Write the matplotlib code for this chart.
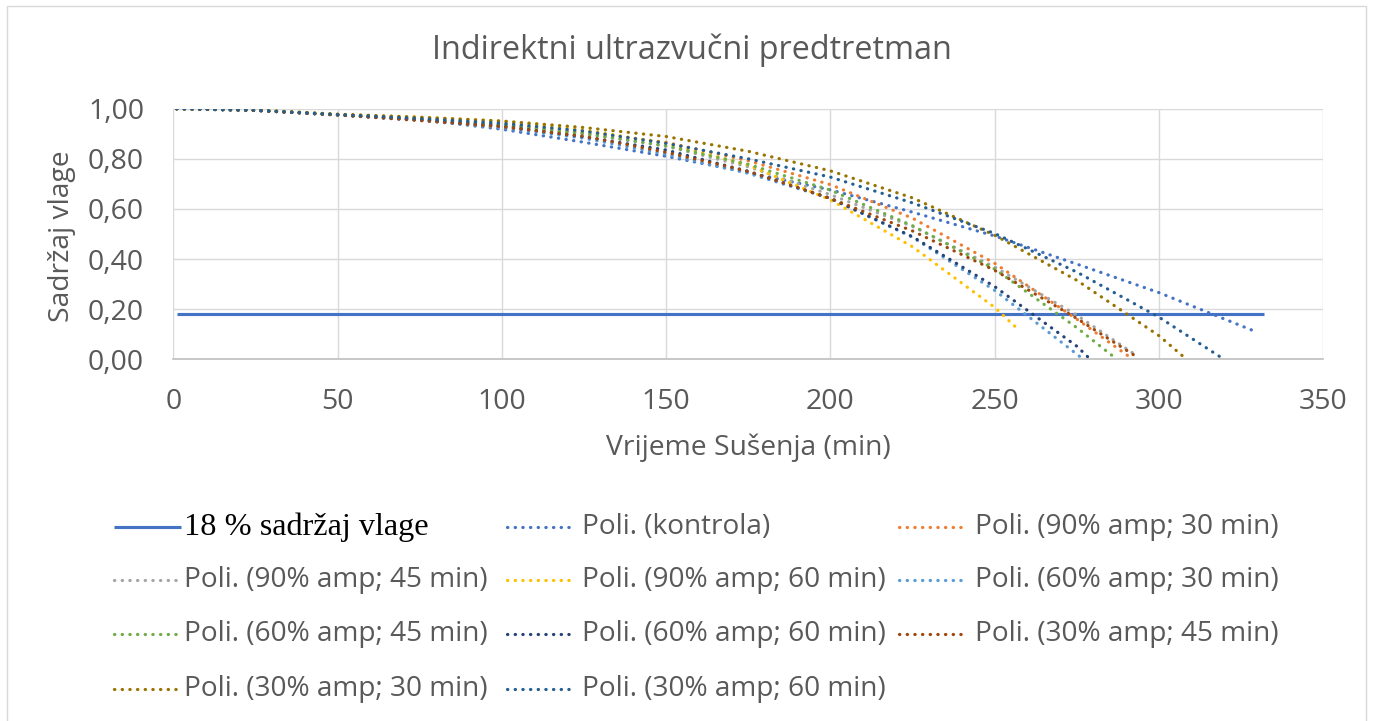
import matplotlib
matplotlib.use("Agg")
import matplotlib.pyplot as plt
from matplotlib.lines import Line2D
from matplotlib.patches import Rectangle

# ---------------- data ----------------
title = "Indirektni ultrazvučni predtretman"
x_label = "Vrijeme Sušenja (min)"
y_label = "Sadržaj vlage"

x_ticks = [0, 50, 100, 150, 200, 250, 300, 350]
y_ticks = [0.0, 0.2, 0.4, 0.6, 0.8, 1.0]
y_tick_labels = ["0,00", "0,20", "0,40", "0,60", "0,80", "1,00"]

ref_label = "18 % sadržaj vlage"
ref_x = [1, 332]
ref_y = [0.18, 0.18]

# trendline values (x in min, y moisture ratio)
kontrola_x = [1, 25, 50, 75, 100, 125, 150, 175, 200, 225, 250, 275, 300, 329.5]
kontrola_y = [1.000, 0.993, 0.975, 0.957, 0.918, 0.866, 0.810, 0.745, 0.676, 0.587, 0.492, 0.380, 0.266, 0.110]

a90t30_x = [1, 25, 50, 75, 100, 125, 150, 175, 200, 225, 250, 275, 291]
a90t30_y = [1.000, 0.994, 0.976, 0.960, 0.937, 0.906, 0.866, 0.792, 0.697, 0.563, 0.383, 0.160, 0.010]

a90t45_x = [1, 25, 50, 75, 100, 125, 150, 175, 200, 225, 250, 275, 293.5]
a90t45_y = [1.000, 0.994, 0.976, 0.958, 0.934, 0.899, 0.850, 0.768, 0.657, 0.530, 0.368, 0.176, 0.012]

a90t60_x = [1, 25, 50, 75, 100, 125, 150, 175, 200, 225, 250, 257.5]
a90t60_y = [1.000, 0.995, 0.978, 0.966, 0.950, 0.915, 0.862, 0.775, 0.636, 0.449, 0.207, 0.115]

a60t30_x = [1, 25, 50, 75, 100, 125, 150, 175, 200, 225, 250, 276]
a60t30_y = [1.000, 0.993, 0.975, 0.953, 0.924, 0.882, 0.818, 0.742, 0.642, 0.487, 0.275, 0.010]

a60t45_x = [1, 25, 50, 75, 100, 125, 150, 175, 200, 225, 250, 275, 286.4]
a60t45_y = [1.000, 0.994, 0.976, 0.958, 0.935, 0.901, 0.852, 0.778, 0.675, 0.533, 0.360, 0.126, 0.008]

a60t60_x = [1, 25, 50, 75, 100, 125, 150, 175, 200, 225, 250, 275, 278.7]
a60t60_y = [1.000, 0.993, 0.975, 0.955, 0.930, 0.888, 0.835, 0.750, 0.642, 0.489, 0.290, 0.052, 0.005]

a30t45_x = [1, 25, 50, 75, 100, 125, 150, 175, 200, 225, 250, 275, 293.2]
a30t45_y = [1.000, 0.993, 0.975, 0.953, 0.928, 0.890, 0.826, 0.750, 0.642, 0.512, 0.355, 0.163, 0.010]

a30t30_x = [1, 25, 50, 75, 100, 125, 150, 175, 200, 225, 250, 275, 300, 307.3]
a30t30_y = [1.000, 0.995, 0.978, 0.966, 0.951, 0.925, 0.889, 0.830, 0.752, 0.644, 0.495, 0.315, 0.094, 0.012]

a30t60_x = [1, 25, 50, 75, 100, 125, 150, 175, 200, 225, 250, 275, 300, 319.3]
a30t60_y = [1.000, 0.994, 0.977, 0.961, 0.942, 0.911, 0.862, 0.800, 0.727, 0.624, 0.502, 0.348, 0.168, 0.004]

series_labels = [
    "Poli. (kontrola)",
    "Poli. (90% amp; 30 min)",
    "Poli. (90% amp; 45 min)",
    "Poli. (90% amp; 60 min)",
    "Poli. (60% amp; 30 min)",
    "Poli. (60% amp; 45 min)",
    "Poli. (60% amp; 60 min)",
    "Poli. (30% amp; 45 min)",
    "Poli. (30% amp; 30 min)",
    "Poli. (30% amp; 60 min)",
]
series_colors = ["#4472C4", "#ED7D31", "#A5A5A5", "#FFC000", "#5B9BD5",
                 "#70AD47", "#264478", "#9E480E", "#997300", "#255E91"]
series_x = [kontrola_x, a90t30_x, a90t45_x, a90t60_x, a60t30_x,
            a60t45_x, a60t60_x, a30t45_x, a30t30_x, a30t60_x]
series_y = [kontrola_y, a90t30_y, a90t45_y, a90t60_y, a60t30_y,
            a60t45_y, a60t60_y, a30t45_y, a30t30_y, a30t60_y]

# ---------------- figure ----------------
W, H = 1373, 721
fig = plt.figure(figsize=(W / 100, H / 100), dpi=100)
fig.patch.set_facecolor("white")

SANS = ["Open Sans", "DejaVu Sans"]
SERIF = ["Liberation Serif", "DejaVu Serif"]
TXT = "#595959"
GRID = "#D9D9D9"


def fx(px):
    return px / W


def fy(py):
    return 1 - py / H


# chart area border
fig.patches.append(Rectangle((fx(7), fy(740)), fx(1366) - fx(7), fy(6) - fy(740),
                             transform=fig.transFigure, fill=False,
                             edgecolor=GRID, linewidth=1.0))

L, R, T, B = 173.3, 1323.3, 108.7, 359.3
ax = fig.add_axes([fx(L), fy(B), fx(R) - fx(L), fy(T) - fy(B)])
ax.set_xlim(0, 350)
ax.set_ylim(0, 1.0)
ax.set_facecolor("white")

ax.set_xticks(x_ticks)
ax.set_xticklabels([str(v) for v in x_ticks])
ax.set_yticks(y_ticks)
ax.set_yticklabels(y_tick_labels)
ax.tick_params(length=0, colors=TXT, labelsize=20.5)
ax.tick_params(axis="x", pad=21)
ax.tick_params(axis="y", pad=21)
for lab in ax.get_xticklabels() + ax.get_yticklabels():
    lab.set_fontfamily(SANS)

ax.grid(True, color=GRID, linewidth=1.0)
ax.set_axisbelow(True)
for s in ["top", "right", "left"]:
    ax.spines[s].set_visible(False)
ax.spines["bottom"].set_color("#BFBFBF")
ax.spines["bottom"].set_linewidth(1.2)

ax.plot(ref_x, ref_y, color="#4472C4", linewidth=2.25, solid_capstyle="butt", zorder=3)

DOT = (0, (0.1, 2.3))
for xs, ys, c in zip(series_x, series_y, series_colors):
    ax.plot(xs, ys, color=c, linewidth=2.3, linestyle=DOT,
            dash_capstyle="round", zorder=4)

fig.text(fx(692), fy(50), title, ha="center", va="center",
         fontsize=23.3, color=TXT, family=SANS)
fig.text(fx(748), fy(448), x_label, ha="center", va="center",
         fontsize=20.3, color=TXT, family=SANS)
fig.text(fx(62), fy(236), y_label, ha="center", va="center", rotation=90,
         fontsize=20.3, color=TXT, family=SANS)

# ---------------- legend (row-major, 3 columns) ----------------
legend_labels = [ref_label] + series_labels
legend_colors = ["#4472C4"] + series_colors
row_y = [527, 580, 634, 689]
col_x = [(114, 181, 184), (507, 576, 582), (899, 968, 975)]
for i, (lab, c) in enumerate(zip(legend_labels, legend_colors)):
    r, k = divmod(i, 3)
    x0, x1, xt = col_x[k]
    yy = fy(row_y[r])
    if i == 0:
        fig.lines.append(Line2D([fx(x0), fx(x1)], [yy, yy], transform=fig.transFigure,
                                color=c, linewidth=2.25, solid_capstyle="butt"))
        fig.text(fx(xt), yy, lab, ha="left", va="center", fontsize=23.2,
                 color="black", family=SERIF)
    else:
        fig.lines.append(Line2D([fx(x0), fx(x1)], [yy, yy], transform=fig.transFigure,
                                color=c, linewidth=2.3, linestyle=DOT,
                                dash_capstyle="round"))
        fig.text(fx(xt), yy, lab, ha="left", va="center", fontsize=20.2,
                 color=TXT, family=SANS)

fig.savefig("out.png", dpi=100, facecolor="white")
